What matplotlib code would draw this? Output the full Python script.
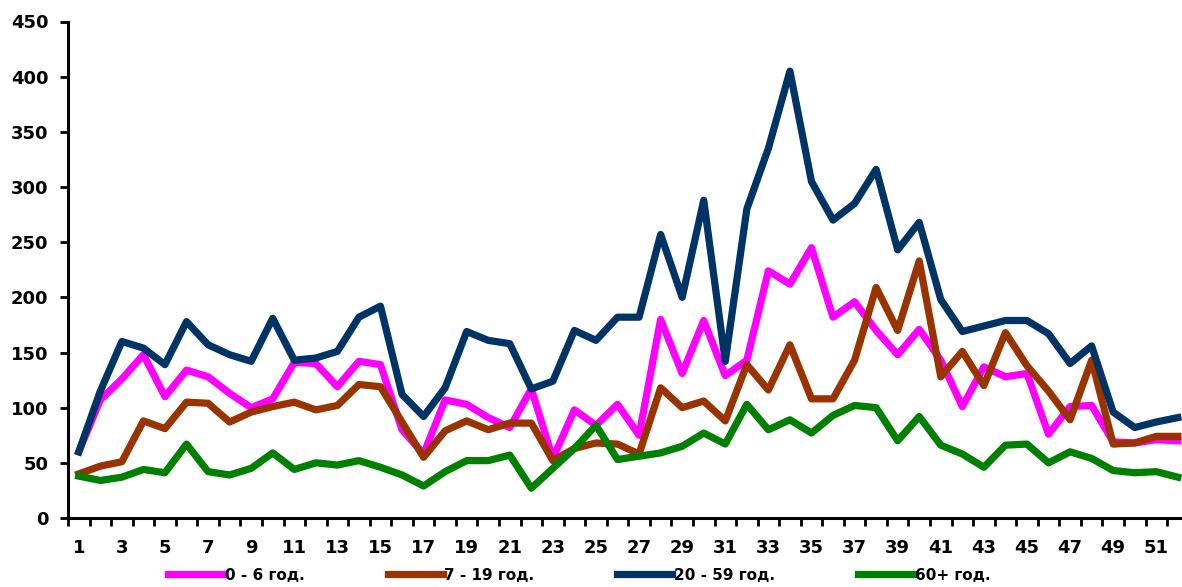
import matplotlib
matplotlib.use("Agg")
import matplotlib.pyplot as plt
import numpy as np

# weekly counts per age group
weeks = list(range(1, 53))

age_0_6 = [60, 107, 126, 148, 110, 134, 128, 113, 100, 108,
           141, 140, 119, 142, 139, 80, 58, 107, 103, 91,
           82, 117, 54, 98, 84, 103, 75, 180, 131, 179,
           129, 143, 224, 212, 245, 182, 196, 170, 148, 171,
           143, 101, 137, 128, 131, 76, 101, 102, 69, 68,
           71, 70]

age_7_19 = [40, 47, 51, 88, 81, 105, 104, 87, 96, 101,
            105, 98, 102, 121, 119, 87, 55, 79, 88, 80,
            86, 86, 52, 63, 68, 67, 58, 118, 100, 106,
            88, 139, 116, 157, 108, 108, 143, 209, 170, 233,
            128, 151, 120, 168, 138, 115, 89, 143, 67, 68,
            74, 74]

age_20_59 = [60, 115, 160, 154, 139, 178, 157, 148, 142, 181,
             143, 145, 151, 182, 192, 112, 92, 118, 169, 161,
             158, 117, 124, 170, 161, 182, 182, 257, 200, 288,
             142, 280, 335, 405, 305, 270, 285, 316, 243, 268,
             198, 169, 174, 179, 179, 167, 140, 156, 96, 82,
             87, 91]

age_60 = [38, 34, 37, 44, 41, 67, 42, 39, 45, 59,
          44, 50, 48, 52, 46, 39, 29, 42, 52, 52,
          57, 27, 45, 63, 84, 53, 56, 59, 65, 77,
          67, 103, 80, 89, 77, 93, 102, 100, 70, 92,
          66, 58, 46, 66, 67, 50, 60, 54, 43, 41,
          42, 37]

labels = ["0 - 6 год.", "7 - 19 год.", "20 - 59 год.", "60+ год."]
colors = ["#FF00FF", "#993300", "#003366", "#008000"]

plt.rcParams['font.family'] = ['DejaVu Sans']
plt.rcParams['font.weight'] = 'bold'

fig = plt.figure(figsize=(11.82, 5.87), dpi=100)
ax = fig.add_axes([68 / 1182, 69 / 587, 1120.6 / 1182, 496.5 / 587])

for ser, lab, col in zip([age_0_6, age_7_19, age_20_59, age_60], labels, colors):
    ax.plot(weeks, ser, color=col, lw=5.2, label=lab, solid_joinstyle='round')

ax.set_xlim(0.5, 52.5)
ax.set_ylim(0, 450)
ax.set_yticks(np.arange(0, 451, 50))

# tick marks between categories, labels on every second week
ax.set_xticks(np.arange(0.5, 53, 1))
ax.set_xticklabels([])
ax.set_xticks(weeks[::2], minor=True)
ax.set_xticklabels([str(w) for w in weeks[::2]], minor=True)
ax.tick_params(axis='x', which='major', length=6, width=2, direction='out')
ax.tick_params(axis='x', which='minor', length=0, pad=15, labelsize=13)
ax.tick_params(axis='y', length=6, width=2, pad=8, labelsize=13)

for s in ['top', 'right']:
    ax.spines[s].set_visible(False)
for s in ['left', 'bottom']:
    ax.spines[s].set_linewidth(2.2)

fig.legend(loc='center', bbox_to_anchor=(0.490, 0.02), ncol=4, frameon=False,
           handlelength=3.6, handletextpad=0.1, columnspacing=5.45,
           prop={'size': 11, 'weight': 'bold'})

fig.savefig("out.png", dpi=100)
